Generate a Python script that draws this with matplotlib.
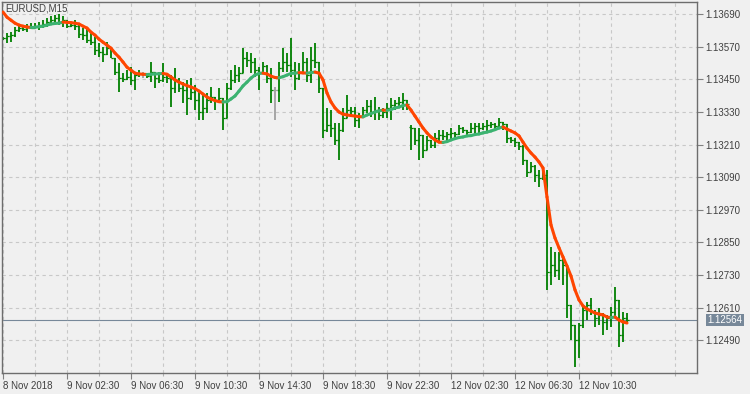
import numpy as np
import matplotlib.pyplot as plt
import matplotlib.transforms as mtransforms
from matplotlib.collections import LineCollection

plt.rcParams['font.family'] = ['Liberation Sans', 'DejaVu Sans']

symbol = "EURUSD,M15"

# M15 bars, 8 Nov 2018 22:30 .. 12 Nov 2018 ~11:30
highs = [
    1.13606, 1.13621, 1.13624, 1.13643, 1.13650, 1.13646, 1.13654, 1.13657, 1.13657, 1.13661,
    1.13668, 1.13676, 1.13683, 1.13687, 1.13690, 1.13683, 1.13668, 1.13661, 1.13668, 1.13657,
    1.13639, 1.13643, 1.13624, 1.13606, 1.13584, 1.13569, 1.13587, 1.13569, 1.13529, 1.13510,
    1.13473, 1.13484, 1.13495, 1.13477, 1.13484, 1.13477, 1.13473, 1.13514, 1.13477, 1.13477,
    1.13510, 1.13466, 1.13466, 1.13492, 1.13455, 1.13440, 1.13448, 1.13455, 1.13429, 1.13403,
    1.13392, 1.13400, 1.13422, 1.13385, 1.13418, 1.13381, 1.13437, 1.13484, 1.13503, 1.13495,
    1.13565, 1.13551, 1.13547, 1.13529, 1.13495, 1.13514, 1.13503, 1.13492, 1.13422, 1.13514,
    1.13565, 1.13547, 1.13602, 1.13514, 1.13510, 1.13551, 1.13529, 1.13569, 1.13584, 1.13514,
    1.13418, 1.13345, 1.13337, 1.13289, 1.13289, 1.13345, 1.13392, 1.13348, 1.13348, 1.13326,
    1.13348, 1.13374, 1.13374, 1.13385, 1.13348, 1.13345, 1.13363, 1.13381, 1.13374, 1.13385,
    1.13400, 1.13374, 1.13282, 1.13271, 1.13271, 1.13245, 1.13242, 1.13227, 1.13253, 1.13264,
    1.13264, 1.13256, 1.13271, 1.13256, 1.13282, 1.13275, 1.13264, 1.13289, 1.13289, 1.13289,
    1.13289, 1.13300, 1.13293, 1.13289, 1.13308, 1.13293, 1.13286, 1.13238, 1.13234, 1.13219,
    1.13208, 1.13153, 1.13146, 1.13135, 1.13116, 1.13116, 1.13116, 1.12833, 1.12815, 1.12815,
    1.12804, 1.12767, 1.12620, 1.12546, 1.12553, 1.12612, 1.12631, 1.12645, 1.12601, 1.12608,
    1.12590, 1.12583, 1.12612, 1.12686, 1.12638, 1.12594, 1.12590,
]
lows = [
    1.13595, 1.13584, 1.13587, 1.13606, 1.13624, 1.13628, 1.13624, 1.13635, 1.13639, 1.13632,
    1.13639, 1.13643, 1.13650, 1.13657, 1.13650, 1.13643, 1.13639, 1.13643, 1.13632, 1.13602,
    1.13595, 1.13584, 1.13576, 1.13540, 1.13532, 1.13514, 1.13540, 1.13529, 1.13466, 1.13403,
    1.13440, 1.13448, 1.13429, 1.13411, 1.13459, 1.13455, 1.13455, 1.13440, 1.13418, 1.13437,
    1.13440, 1.13437, 1.13348, 1.13400, 1.13403, 1.13363, 1.13319, 1.13374, 1.13337, 1.13300,
    1.13300, 1.13326, 1.13363, 1.13337, 1.13374, 1.13264, 1.13308, 1.13411, 1.13437, 1.13440,
    1.13473, 1.13495, 1.13473, 1.13459, 1.13411, 1.13477, 1.13437, 1.13363, 1.13300, 1.13367,
    1.13477, 1.13477, 1.13459, 1.13411, 1.13448, 1.13473, 1.13440, 1.13437, 1.13492, 1.13400,
    1.13234, 1.13256, 1.13238, 1.13208, 1.13153, 1.13256, 1.13308, 1.13319, 1.13275, 1.13271,
    1.13311, 1.13326, 1.13311, 1.13300, 1.13300, 1.13308, 1.13308, 1.13300, 1.13337, 1.13345,
    1.13337, 1.13337, 1.13190, 1.13208, 1.13153, 1.13161, 1.13190, 1.13196, 1.13196, 1.13219,
    1.13227, 1.13219, 1.13227, 1.13227, 1.13245, 1.13253, 1.13238, 1.13253, 1.13245, 1.13253,
    1.13264, 1.13253, 1.13271, 1.13264, 1.13275, 1.13264, 1.13216, 1.13216, 1.13201, 1.13190,
    1.13135, 1.13091, 1.13109, 1.13072, 1.13054, 1.13080, 1.12675, 1.12693, 1.12723, 1.12712,
    1.12693, 1.12572, 1.12491, 1.12392, 1.12425, 1.12535, 1.12564, 1.12583, 1.12539, 1.12546,
    1.12509, 1.12528, 1.12539, 1.12575, 1.12465, 1.12483, 1.12553,
]
closes = [
    1.13602, 1.13610, 1.13613, 1.13632, 1.13639, 1.13635, 1.13643, 1.13639, 1.13646, 1.13650,
    1.13654, 1.13661, 1.13668, 1.13676, 1.13661, 1.13668, 1.13646, 1.13650, 1.13646, 1.13617,
    1.13613, 1.13595, 1.13587, 1.13558, 1.13551, 1.13544, 1.13565, 1.13529, 1.13477, 1.13455,
    1.13451, 1.13459, 1.13448, 1.13466, 1.13470, 1.13470, 1.13462, 1.13477, 1.13455, 1.13448,
    1.13459, 1.13455, 1.13418, 1.13448, 1.13418, 1.13411, 1.13381, 1.13403, 1.13374, 1.13330,
    1.13345, 1.13374, 1.13385, 1.13374, 1.13381, 1.13308, 1.13418, 1.13448, 1.13466, 1.13473,
    1.13529, 1.13521, 1.13514, 1.13484, 1.13477, 1.13499, 1.13455, 1.13411, 1.13411, 1.13492,
    1.13514, 1.13503, 1.13484, 1.13455, 1.13477, 1.13514, 1.13466, 1.13521, 1.13514, 1.13418,
    1.13264, 1.13282, 1.13271, 1.13227, 1.13264, 1.13308, 1.13337, 1.13334, 1.13300, 1.13315,
    1.13337, 1.13352, 1.13330, 1.13337, 1.13319, 1.13330, 1.13345, 1.13356, 1.13363, 1.13367,
    1.13374, 1.13359, 1.13271, 1.13227, 1.13245, 1.13190, 1.13227, 1.13208, 1.13234, 1.13245,
    1.13242, 1.13249, 1.13253, 1.13249, 1.13271, 1.13264, 1.13256, 1.13271, 1.13278, 1.13271,
    1.13278, 1.13282, 1.13286, 1.13278, 1.13293, 1.13286, 1.13234, 1.13227, 1.13219, 1.13205,
    1.13153, 1.13109, 1.13131, 1.13098, 1.13087, 1.13098, 1.12741, 1.12767, 1.12748, 1.12785,
    1.12767, 1.12620, 1.12546, 1.12491, 1.12546, 1.12601, 1.12620, 1.12594, 1.12572, 1.12583,
    1.12557, 1.12572, 1.12594, 1.12638, 1.12509, 1.12572, 1.12564,
]
# smoothed moving average drawn over the bars
ma = [
    1.13698, 1.13679, 1.13668, 1.13657, 1.13650, 1.13646, 1.13643, 1.13641, 1.13642, 1.13644,
    1.13646, 1.13650, 1.13654, 1.13656, 1.13657, 1.13661, 1.13660, 1.13659, 1.13657, 1.13654,
    1.13646, 1.13639, 1.13624, 1.13613, 1.13598, 1.13587, 1.13576, 1.13565, 1.13547, 1.13532,
    1.13514, 1.13495, 1.13484, 1.13473, 1.13470, 1.13469, 1.13468, 1.13469, 1.13470, 1.13471,
    1.13472, 1.13469, 1.13459, 1.13448, 1.13440, 1.13433, 1.13427, 1.13422, 1.13416, 1.13407,
    1.13396, 1.13385, 1.13378, 1.13372, 1.13368, 1.13367, 1.13368, 1.13378, 1.13389, 1.13407,
    1.13426, 1.13440, 1.13455, 1.13466, 1.13472, 1.13473, 1.13470, 1.13462, 1.13457, 1.13456,
    1.13460, 1.13466, 1.13472, 1.13473, 1.13475, 1.13474, 1.13473, 1.13475, 1.13477, 1.13473,
    1.13448, 1.13400, 1.13367, 1.13345, 1.13330, 1.13322, 1.13319, 1.13317, 1.13315, 1.13313,
    1.13312, 1.13319, 1.13324, 1.13330, 1.13334, 1.13337, 1.13336, 1.13339, 1.13345, 1.13348,
    1.13354, 1.13356, 1.13337, 1.13315, 1.13293, 1.13271, 1.13253, 1.13238, 1.13227, 1.13219,
    1.13218, 1.13221, 1.13227, 1.13232, 1.13236, 1.13238, 1.13242, 1.13243, 1.13247, 1.13249,
    1.13253, 1.13256, 1.13260, 1.13265, 1.13271, 1.13275, 1.13267, 1.13260, 1.13253, 1.13242,
    1.13219, 1.13197, 1.13179, 1.13164, 1.13146, 1.13124, 1.13017, 1.12914, 1.12866, 1.12830,
    1.12796, 1.12763, 1.12726, 1.12675, 1.12638, 1.12616, 1.12605, 1.12597, 1.12590, 1.12586,
    1.12583, 1.12575, 1.12573, 1.12575, 1.12564, 1.12557, 1.12553,
]
first_open = 1.13598
monday_bar = 102          # first bar after the weekend gap
monday_open = 1.13275
last_price = 1.12564

price_ticks = [1.13690, 1.13570, 1.13450, 1.13330, 1.13210, 1.13090,
               1.12970, 1.12850, 1.12730, 1.12610, 1.12490]
time_labels = ["8 Nov 2018", "9 Nov 02:30", "9 Nov 06:30", "9 Nov 10:30",
               "9 Nov 14:30", "9 Nov 18:30", "9 Nov 22:30", "12 Nov 02:30",
               "12 Nov 06:30", "12 Nov 10:30"]
bars_per_label = 16

n = len(closes)
idx = np.arange(n)
highs = np.array(highs)
lows = np.array(lows)
closes = np.array(closes)
opens = np.concatenate([[first_open], closes[:-1]])
opens[monday_bar] = monday_open

bg = "#f0f0f0"
fig = plt.figure(figsize=(7.5, 3.94), dpi=100, facecolor=bg)
ax = fig.add_axes([2 / 750, 1 - 373 / 394, 695 / 750, 371 / 394])
ax.set_facecolor(bg)

# price line
ax.axhline(last_price, color="#778899", lw=0.8, zorder=1)

# OHLC bars (doji bars grey, like the terminal)
cols = np.where(opens == closes, "#a0a0a0", "#008000")
ax.vlines(idx, lows, highs, colors=cols, lw=1.3, zorder=2)
ax.hlines(opens, idx - 0.5, idx, colors=cols, lw=0.9, zorder=2)
ax.hlines(closes, idx, idx + 0.5, colors=cols, lw=0.9, zorder=2)

# moving average, red while falling, green while rising
segs = []
seg_cols = []
prev = "#ff4500"
for i in range(n - 1):
    segs.append([(i, ma[i]), (i + 1, ma[i + 1])])
    if ma[i + 1] < ma[i]:
        prev = "#ff4500"
    elif ma[i + 1] > ma[i]:
        prev = "#3cb371"
    seg_cols.append(prev)
ax.add_collection(LineCollection(segs, colors=seg_cols, linewidths=2.2,
                                 capstyle="round", zorder=3))

ax.set_xlim(-0.25, 173.5)
ax.set_ylim(1.12369, 1.13735)

# axes, ticks, grid
ax.yaxis.tick_right()
ax.set_yticks(price_ticks)
ax.set_yticklabels([f"{p:.5f}" for p in price_ticks])
major_x = [i * bars_per_label for i in range(len(time_labels))]
ax.set_xticks(major_x)
ax.set_xticklabels(time_labels)
ax.set_xticks(np.arange(bars_per_label // 2, 174, bars_per_label), minor=True)
for lbl in ax.get_xticklabels():
    lbl.set_ha("left")
ax.tick_params(axis="both", which="major", length=4, width=0.8, color="#808080",
               labelsize=7, labelcolor="#404040", pad=2)
ax.tick_params(axis="x", which="minor", length=2, width=0.8, color="#b0b0b0")
ax.grid(True, which="both", color="#c8c8c8", linestyle=(0, (3, 3)), lw=0.8, zorder=0)
for sp in ax.spines.values():
    sp.set_color("#6d6d6d")
    sp.set_linewidth(1.0)

ax.text(0.004, 0.997, symbol, transform=ax.transAxes, ha="left", va="top",
        fontsize=7, color="#404040")

trans = mtransforms.blended_transform_factory(ax.transAxes, ax.transData)
ax.text(1.015, last_price, f"{last_price:.5f}", transform=trans, ha="left",
        va="center", fontsize=7, color="white", clip_on=False,
        bbox=dict(boxstyle="square,pad=0.15", fc="#778899", ec="none"))

fig.savefig("out.png", dpi=100, facecolor=bg)
